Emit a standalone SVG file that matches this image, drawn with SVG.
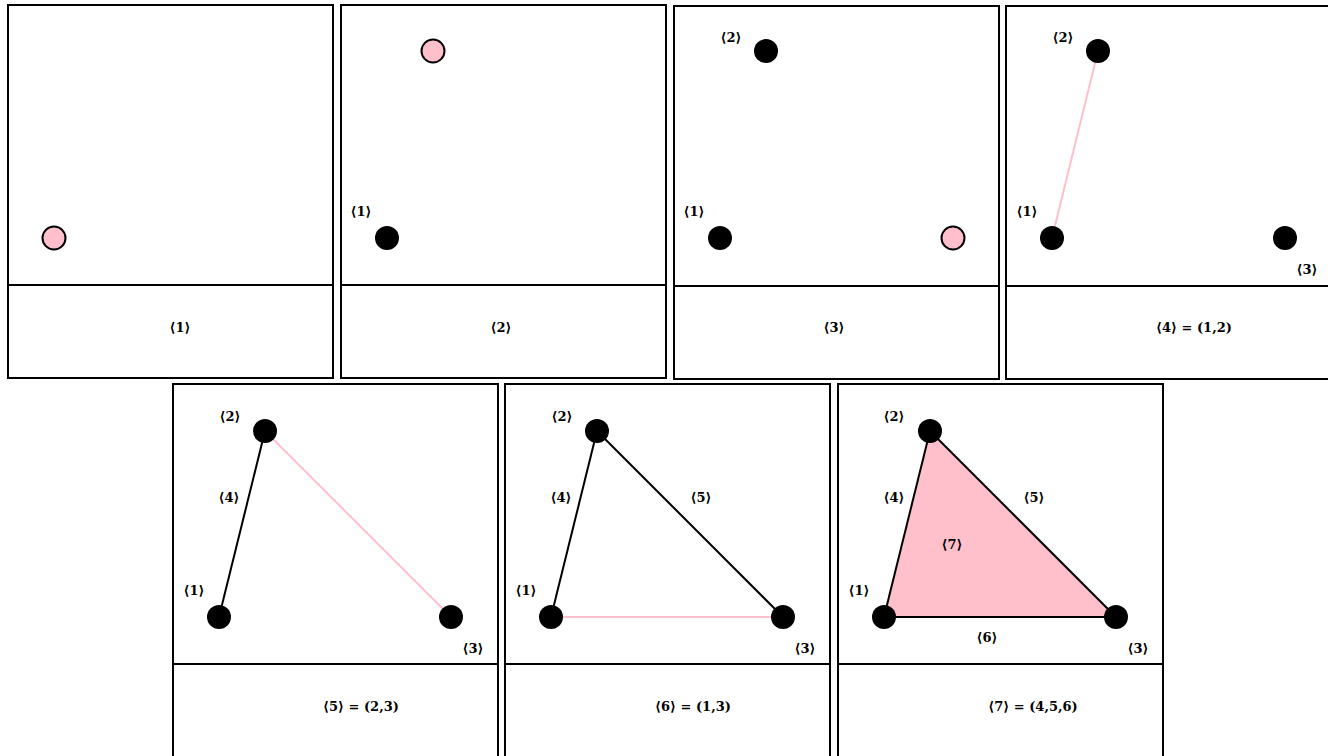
<svg xmlns="http://www.w3.org/2000/svg" width="1328" height="756" viewBox="0 0 1328 756">
<style>
.frame{fill:#fff;stroke:#000;stroke-width:2}
.div{stroke:#000;stroke-width:2}
.v{fill:#000}
.vn{fill:#FFC0CB;stroke:#000;stroke-width:2}
.e{stroke:#000;stroke-width:2;fill:none}
.en{stroke:#FFC0CB;stroke-width:2;fill:none}
.f{fill:#FFC0CB}
text{font-family:"DejaVu Serif","Liberation Serif",serif;font-size:13px;font-weight:bold;fill:#000;text-anchor:middle;dominant-baseline:central}
</style>
<rect width="1328" height="756" fill="#fff"/>
<g id="panel1">
<rect class="frame" x="8" y="5" width="325" height="373"/>
<line class="div" x1="8" y1="285" x2="333" y2="285"/>
<circle class="vn" cx="54" cy="238" r="11.5"/>
<text x="180" y="327">⟨1⟩</text>
</g>
<g id="panel2">
<rect class="frame" x="341" y="5" width="325" height="373"/>
<line class="div" x1="341" y1="285" x2="666" y2="285"/>
<circle class="v" cx="387" cy="238" r="12"/>
<circle class="vn" cx="433" cy="51" r="11.5"/>
<text x="361" y="211">⟨1⟩</text>
<text x="501" y="327">⟨2⟩</text>
</g>
<g id="panel3">
<rect class="frame" x="674" y="6" width="325" height="373"/>
<line class="div" x1="674" y1="286" x2="999" y2="286"/>
<circle class="v" cx="720" cy="238" r="12"/>
<circle class="v" cx="766" cy="51" r="12"/>
<circle class="vn" cx="953" cy="238" r="11.5"/>
<text x="694" y="211">⟨1⟩</text>
<text x="731" y="37">⟨2⟩</text>
<text x="834" y="327">⟨3⟩</text>
</g>
<g id="panel4">
<rect class="frame" x="1006" y="6" width="330" height="373"/>
<line class="div" x1="1006" y1="286" x2="1336" y2="286"/>
<line class="en" x1="1052" y1="238" x2="1098" y2="51"/>
<circle class="v" cx="1052" cy="238" r="12"/>
<circle class="v" cx="1098" cy="51" r="12"/>
<circle class="v" cx="1285" cy="238" r="12"/>
<text x="1027" y="211">⟨1⟩</text>
<text x="1063" y="37">⟨2⟩</text>
<text x="1307" y="269">⟨3⟩</text>
<text x="1194" y="327">⟨4⟩ = (1,2)</text>
</g>
<g id="panel5">
<rect class="frame" x="173" y="384" width="325" height="380"/>
<line class="div" x1="173" y1="664" x2="498" y2="664"/>
<line class="e" x1="219" y1="617" x2="265" y2="431"/>
<line class="en" x1="265" y1="431" x2="451" y2="617"/>
<circle class="v" cx="219" cy="617" r="12"/>
<circle class="v" cx="265" cy="431" r="12"/>
<circle class="v" cx="451" cy="617" r="12"/>
<text x="194" y="590">⟨1⟩</text>
<text x="230" y="416">⟨2⟩</text>
<text x="473" y="648">⟨3⟩</text>
<text x="229" y="497">⟨4⟩</text>
<text x="361" y="706">⟨5⟩ = (2,3)</text>
</g>
<g id="panel6">
<rect class="frame" x="505" y="384" width="325" height="380"/>
<line class="div" x1="505" y1="664" x2="830" y2="664"/>
<line class="e" x1="551" y1="617" x2="597" y2="431"/>
<line class="e" x1="597" y1="431" x2="783" y2="617"/>
<line class="en" x1="551" y1="617" x2="783" y2="617"/>
<circle class="v" cx="551" cy="617" r="12"/>
<circle class="v" cx="597" cy="431" r="12"/>
<circle class="v" cx="783" cy="617" r="12"/>
<text x="526" y="590">⟨1⟩</text>
<text x="562" y="416">⟨2⟩</text>
<text x="805" y="648">⟨3⟩</text>
<text x="561" y="497">⟨4⟩</text>
<text x="701" y="497">⟨5⟩</text>
<text x="693" y="706">⟨6⟩ = (1,3)</text>
</g>
<g id="panel7">
<rect class="frame" x="838" y="384" width="325" height="380"/>
<line class="div" x1="838" y1="664" x2="1163" y2="664"/>
<polygon class="f" points="884,617 930,431 1116,617"/>
<line class="e" x1="884" y1="617" x2="930" y2="431"/>
<line class="e" x1="930" y1="431" x2="1116" y2="617"/>
<line class="e" x1="884" y1="617" x2="1116" y2="617"/>
<circle class="v" cx="884" cy="617" r="12"/>
<circle class="v" cx="930" cy="431" r="12"/>
<circle class="v" cx="1116" cy="617" r="12"/>
<text x="859" y="590">⟨1⟩</text>
<text x="894" y="416">⟨2⟩</text>
<text x="1138" y="648">⟨3⟩</text>
<text x="894" y="497">⟨4⟩</text>
<text x="1034" y="497">⟨5⟩</text>
<text x="987" y="637">⟨6⟩</text>
<text x="952" y="544">⟨7⟩</text>
<text x="1033" y="706">⟨7⟩ = (4,5,6)</text>
</g>
</svg>
